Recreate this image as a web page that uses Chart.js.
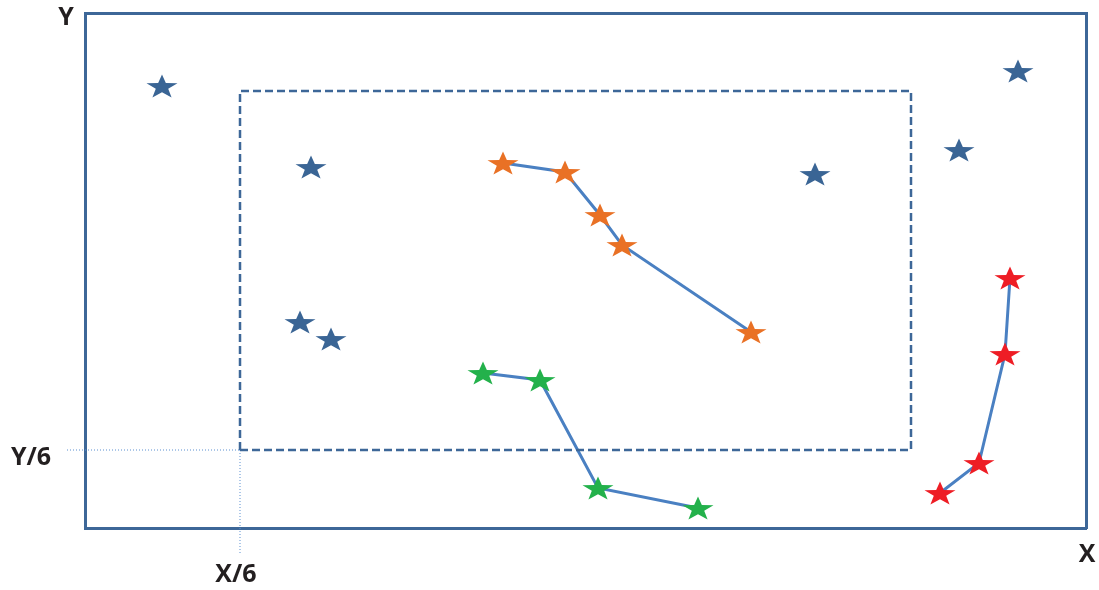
<!DOCTYPE html>
<html>
<head>
<meta charset="utf-8">
<script src="https://cdn.jsdelivr.net/npm/chart.js@4/dist/chart.umd.min.js"></script>
<style>
html, body { margin: 0; background: #fff; }
#wrap { width: 1099px; height: 590px; }
</style>
</head>
<body>
<div id="wrap"><canvas id="c" width="1099" height="590"></canvas></div>
<script>
"use strict";
const frameW = 1001, frameH = 515;

const innerX = [155, 826];   // dashed box, X/6 ... right edge
const innerY = [78, 437];    // dashed box, Y/6 ... top edge
const guideStart = [-18, -25];

const blueX = [77, 226, 215, 246, 730, 874, 933];
const blueY = [442, 361, 206, 189, 354, 378, 457];

const orangeX = [418, 480, 515, 537, 666];
const orangeY = [365, 356, 313, 283, 196];

const greenX = [398, 455, 513, 613];
const greenY = [155, 148, 40, 20];

const redX = [855, 894, 920, 925];
const redY = [35, 65, 174, 250];

const pts = (xs, ys) => xs.map((x, i) => ({ x, y: ys[i] }));

const starImg = fill =>
{
    const w = 34, h = 26, c = document.createElement('canvas');
    c.width = w; c.height = h;
    const g = c.getContext('2d');
    const rx = 16.3, ry = 12.7, cy = h / 2 + 1.2;
    g.beginPath();
    for (let i = 0; i < 10; i++)
    {
        const r = i % 2 ? 0.4 : 1, a = -Math.PI / 2 + i * Math.PI / 5;
        g.lineTo(w / 2 + Math.cos(a) * r * rx, cy + Math.sin(a) * r * ry);
    }
    g.closePath();
    g.fillStyle = fill;
    g.fill();
    return c;
};

const frameColor = '#3d6798';
const trackColor = '#4a80c2';

const track = (xs, ys, fill) => ({
    data: pts(xs, ys),
    showLine: true,
    borderColor: trackColor,
    borderWidth: 3,
    pointStyle: starImg(fill),
    pointRadius: 12,
    clip: false
});

const labelPlugin = {
    id: 'labels',
    afterDraw(chart)
    {
        const { ctx, scales: { x, y } } = chart;
        ctx.save();
        ctx.font = 'bold 25px "Open Sans", "Liberation Sans", sans-serif';
        ctx.fillStyle = '#231f20';
        ctx.textAlign = 'center';
        ctx.textBaseline = 'middle';
        ctx.fillText('Y', x.left - 19, y.top + 5);
        ctx.fillText('Y/6', x.left - 54, y.getPixelForValue(innerY[0]) + 8);
        ctx.fillText('X/6', x.getPixelForValue(innerX[0]) - 4, y.bottom + 47);
        ctx.fillText('X', x.right + 1, y.bottom + 27);
        ctx.restore();
    }
};

const edge = position => ({
    type: 'linear',
    position,
    display: true,
    min: 0,
    max: position === 'left' || position === 'right' ? frameH : frameW,
    grid: { display: false, drawTicks: false },
    ticks: { display: false },
    border: { display: true, color: frameColor, width: 3 }
});

new Chart(document.getElementById('c'), {
    type: 'scatter',
    data: {
        datasets: [
            {
                data: pts([innerX[0], innerX[1], innerX[1], innerX[0], innerX[0]],
                    [innerY[0], innerY[0], innerY[1], innerY[1], innerY[0]]),
                showLine: true,
                borderColor: frameColor,
                borderWidth: 2.5,
                borderDash: [8, 4],
                pointRadius: 0,
                clip: false
            },
            {
                data: pts([guideStart[0], innerX[0]], [innerY[0], innerY[0]]),
                showLine: true,
                borderColor: '#5b8fd0',
                borderWidth: 1,
                borderDash: [1, 2],
                pointRadius: 0,
                clip: false
            },
            {
                data: pts([innerX[0], innerX[0]], [guideStart[1], innerY[0]]),
                showLine: true,
                borderColor: '#5b8fd0',
                borderWidth: 1,
                borderDash: [1, 2],
                pointRadius: 0,
                clip: false
            },
            {
                data: pts(blueX, blueY),
                pointStyle: starImg('#3a6595'),
                pointRadius: 12,
                clip: false
            },
            track(orangeX, orangeY, '#e97125'),
            track(greenX, greenY, '#23b14b'),
            track(redX, redY, '#ee1d25')
        ]
    },
    options: {
        responsive: false,
        animation: false,
        devicePixelRatio: 1,
        layout: { autoPadding: false, padding: { left: 85, top: 13, right: 13, bottom: 62 } },
        scales: {
            x: edge('bottom'),
            x2: edge('top'),
            y: edge('left'),
            y2: edge('right')
        },
        plugins: { legend: { display: false }, tooltip: { enabled: false } }
    },
    plugins: [labelPlugin]
});
</script>
</body>
</html>
